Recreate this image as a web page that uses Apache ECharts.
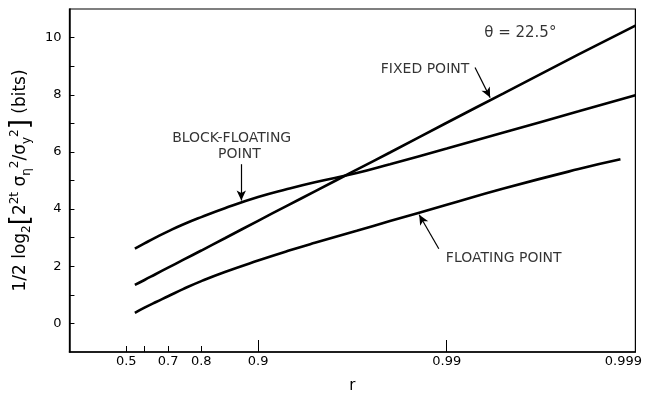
<!DOCTYPE html>
<html>
<head>
<meta charset="utf-8">
<script src="https://cdn.jsdelivr.net/npm/echarts@6/dist/echarts.min.js"></script>
<style>html,body{margin:0;padding:0;background:#fff}#c{width:645px;height:399px}</style>
</head>
<body>
<div id="c"></div>
<script>
// ---- data (r = correlation coefficient, y in bits) ----
const rFixed = [0.55,0.6,0.65,0.7,0.75,0.8,0.85,0.9,0.93,0.95,0.97,0.98,0.99,0.995,0.998,0.999];
const yFixed = [1.35,1.52,1.72,1.95,2.22,2.55,2.98,3.59,4.12,4.62,5.38,5.98,7.02,8.05,9.41,10.42];
const rBlock = [0.55,0.6,0.65,0.7,0.75,0.8,0.85,0.9,0.93,0.95,0.97,0.98,0.99,0.995,0.998,0.999];
const yBlock = [2.62,2.8,3.0,3.22,3.46,3.72,4.03,4.42,4.7,4.94,5.26,5.57,6.12,6.68,7.42,7.98];
const rFloat = [0.55,0.6,0.65,0.7,0.75,0.8,0.85,0.9,0.93,0.95,0.97,0.98,0.99,0.995,0.998,0.9988];
const yFloat = [0.37,0.55,0.74,0.95,1.2,1.48,1.8,2.2,2.53,2.82,3.24,3.58,4.15,4.72,5.4,5.74];

const xLabelTicks = ['0.5','0.7','0.8','0.9','0.99','0.999'];
const xShortTicks = ['0.5','0.6','0.7','0.8'];
const xLongTicks = ['0.9','0.99'];
const yLabelTicks = [0,2,4,6,8,10];
const yTicks = [0,1,2,3,4,5,6,7,8,9,10];

// r -> position on the -log10(1-r) scale
const tr = r => -Math.log10(1 - Number(r));
const labelOf = {};
xLabelTicks.forEach(s => { labelOf[tr(s).toFixed(6)] = s; });
const pts = (rs, ys) => rs.map((r, i) => [tr(r), ys[i]]);

const chart = echarts.init(document.getElementById('c'), null, {renderer: 'canvas'});
const FONT = 'DejaVu Sans';
const baseX = {
  type: 'value', min: 0, max: 3, position: 'bottom',
  splitLine: {show: false}
};
chart.setOption({
  animation: false,
  backgroundColor: '#fff',
  grid: {left: 67, right: 2, top: 9, bottom: 41, show: true, borderColor: '#000', borderWidth: 1.2},
  xAxis: [
    Object.assign({}, baseX, {
      name: 'r', nameLocation: 'middle', nameGap: 27,
      nameTextStyle: {fontFamily: FONT, fontSize: 15, color: '#000'},
      axisLine: {onZero: false, lineStyle: {color: '#000', width: 1.5}},
      axisTick: {inside: true, length: 6, customValues: xShortTicks.map(tr), lineStyle: {color: '#000', width: 1}},
      axisLabel: {
        customValues: xLabelTicks.map(tr), margin: 3,
        fontFamily: FONT, fontSize: 13, color: '#000',
        formatter: v => {
          const s = labelOf[Number(v).toFixed(6)] || '';
          return s === '0.999' ? '{e|' + s + '}' : s;
        },
        rich: {e: {fontFamily: FONT, fontSize: 13, color: '#000', padding: [0, 24, 0, 0]}}
      }
    }),
    Object.assign({}, baseX, {
      axisLine: {show: false, onZero: false},
      axisLabel: {show: false},
      axisTick: {inside: true, length: 12, customValues: xLongTicks.map(tr), lineStyle: {color: '#000', width: 1}}
    })
  ],
  yAxis: {
    type: 'value', min: -1, max: 11,
    splitLine: {show: false},
    axisLine: {show: true, onZero: false, lineStyle: {color: '#000', width: 1.5}},
    axisTick: {inside: true, length: 5, customValues: yTicks, lineStyle: {color: '#000', width: 1}},
    axisLabel: {customValues: yLabelTicks, margin: 8, fontFamily: FONT, fontSize: 13, color: '#000'},
    name: '{n|1/2 log}{sub|2}{b|[}{n|2}{sup|2t}{n| σ}{sub|η}{sup|2}{n|/σ}{sub|y}{sup|2}{b|]}{n| (bits)}',
    nameLocation: 'middle', nameRotate: 90, nameGap: 30,
    nameTextStyle: {
      fontFamily: FONT, color: '#000',
      rich: {
        n: {fontFamily: FONT, fontSize: 17, color: '#000', verticalAlign: 'middle'},
        b: {fontFamily: FONT, fontSize: 26, color: '#000', verticalAlign: 'middle'},
        sub: {fontFamily: FONT, fontSize: 12, color: '#000', verticalAlign: 'bottom', padding: [0, 0, 1, 0]},
        sup: {fontFamily: FONT, fontSize: 12, color: '#000', verticalAlign: 'top', padding: [1, 0, 0, 0]}
      }
    }
  },
  series: [
    {
      name: 'FIXED POINT', type: 'line', data: pts(rFixed, yFixed), smooth: true, showSymbol: false,
      lineStyle: {color: '#000', width: 2.6}, z: 3,
      markLine: {
        silent: true, symbol: ['none', 'arrow'], symbolSize: [7, 10], label: {show: false},
        lineStyle: {color: '#000', width: 1.2, type: 'solid'},
        data: [
          [{coord: [2.15, 8.95]}, {coord: [2.23, 7.9]}],
          [{coord: [0.911, 5.57]}, {coord: [0.911, 4.3]}],
          [{coord: [1.958, 2.61]}, {coord: [1.854, 3.8]}]
        ]
      }
    },
    {
      name: 'BLOCK-FLOATING POINT', type: 'line', data: pts(rBlock, yBlock), smooth: true, showSymbol: false,
      lineStyle: {color: '#000', width: 2.6}, z: 3
    },
    {
      name: 'FLOATING POINT', type: 'line', data: pts(rFloat, yFloat), smooth: true, showSymbol: false,
      lineStyle: {color: '#000', width: 2.6}, z: 3
    },
    {
      name: 'notes', type: 'scatter', symbolSize: 0, silent: true,
      data: [
        [2.39, 10.17, 'θ = 22.5°'],
        [1.885, 8.9, 'FIXED POINT'],
        [0.86, 6.46, 'BLOCK-FLOATING'],
        [0.901, 5.91, 'POINT'],
        [2.302, 2.27, 'FLOATING POINT']
      ],
      label: {
        show: true, position: 'inside', color: '#000', fontFamily: FONT, fontSize: 14,
        formatter: p => p.data[2] === 'θ = 22.5°' ? '{t|' + p.data[2] + '}' : p.data[2],
        rich: {t: {fontFamily: FONT, fontSize: 15, color: '#000'}}
      }
    }
  ]
});
</script>
</body>
</html>
